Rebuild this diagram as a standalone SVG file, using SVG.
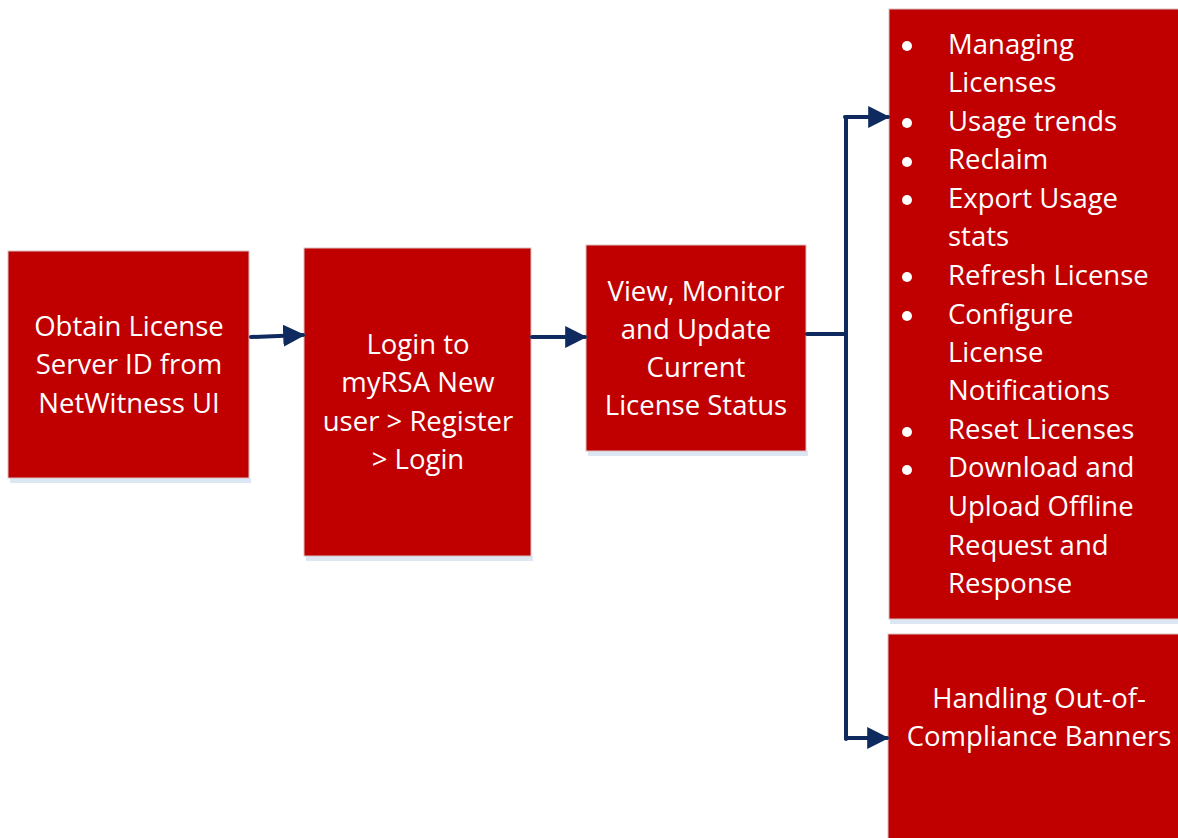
<svg xmlns="http://www.w3.org/2000/svg" width="1178" height="838" viewBox="0 0 1178 838">
<style>
.box{fill:#C00000;stroke:#d9c0c0;stroke-width:1}
.sh{fill:#dde7f3}
.t{font-family:"Open Sans","Noto Sans",sans-serif;font-size:27.5px;fill:#ffffff}
.c{text-anchor:middle}
.ln{fill:none;stroke:#0e2a5e;stroke-width:4;stroke-linecap:round}
.bul{fill:#ffffff}
</style>
<defs>
<marker id="ah" viewBox="0 0 10 10" refX="9" refY="5" markerWidth="5.5" markerHeight="5.5" markerUnits="strokeWidth" orient="auto">
<path d="M0,0 L10,5 L0,10 z" fill="#0e2a5e"/>
</marker>
</defs>
<rect width="1178" height="838" fill="#ffffff"/>
<g id="n1">
<rect class="sh" x="10" y="478" width="241" height="5"/>
<rect class="box" x="8" y="251" width="241" height="227"/>
<text class="t c" x="129" y="336">Obtain License</text>
<text class="t c" x="129" y="374">Server ID from</text>
<text class="t c" x="129" y="413">NetWitness UI</text>
</g>
<g id="n2">
<rect class="sh" x="306" y="556" width="227" height="5"/>
<rect class="box" x="304" y="248" width="227" height="308"/>
<text class="t c" x="418" y="354">Login to</text>
<text class="t c" x="418" y="392">myRSA New</text>
<text class="t c" x="418" y="431">user &gt; Register</text>
<text class="t c" x="418" y="469">&gt; Login</text>
</g>
<g id="n3">
<rect class="sh" x="588" y="451" width="220" height="5"/>
<rect class="box" x="586" y="245" width="220" height="206"/>
<text class="t c" x="696" y="301">View, Monitor</text>
<text class="t c" x="696" y="339">and Update</text>
<text class="t c" x="696" y="377">Current</text>
<text class="t c" x="696" y="415">License Status</text>
</g>
<g id="n4">
<rect class="sh" x="890" y="619" width="288" height="5"/>
<rect class="box" x="889" y="9" width="290" height="610"/>
<circle class="bul" cx="907" cy="46" r="5"/>
<circle class="bul" cx="907" cy="123" r="5"/>
<circle class="bul" cx="907" cy="162" r="5"/>
<circle class="bul" cx="907" cy="200" r="5"/>
<circle class="bul" cx="907" cy="277" r="5"/>
<circle class="bul" cx="907" cy="316" r="5"/>
<circle class="bul" cx="907" cy="432" r="5"/>
<circle class="bul" cx="907" cy="470" r="5"/>
<text class="t" x="948" y="54">Managing</text>
<text class="t" x="948" y="92">Licenses</text>
<text class="t" x="948" y="131">Usage trends</text>
<text class="t" x="948" y="169">Reclaim</text>
<text class="t" x="948" y="208">Export Usage</text>
<text class="t" x="948" y="246">stats</text>
<text class="t" x="948" y="285">Refresh License</text>
<text class="t" x="948" y="324">Configure</text>
<text class="t" x="948" y="362">License</text>
<text class="t" x="948" y="400">Notifications</text>
<text class="t" x="948" y="439">Reset Licenses</text>
<text class="t" x="948" y="477">Download and</text>
<text class="t" x="948" y="516">Upload Offline</text>
<text class="t" x="948" y="555">Request and</text>
<text class="t" x="948" y="593">Response</text>
</g>
<g id="n5">
<rect class="box" x="888" y="634" width="291" height="210"/>
<text class="t c" x="1039" y="708">Handling Out-of-</text>
<text class="t c" x="1039" y="746">Compliance Banners</text>
</g>
<g id="connectors">
<path class="ln" d="M251,337 L303,335" marker-end="url(#ah)"/>
<path class="ln" d="M532,337 L585,337" marker-end="url(#ah)"/>
<path class="ln" d="M807,334 L846,334"/>
<path class="ln" d="M846,117 L846,739" stroke-width="3"/>
<path class="ln" d="M845,117 L888,117" marker-end="url(#ah)"/>
<path class="ln" d="M846,738 L887,738" marker-end="url(#ah)"/>
</g>
</svg>
